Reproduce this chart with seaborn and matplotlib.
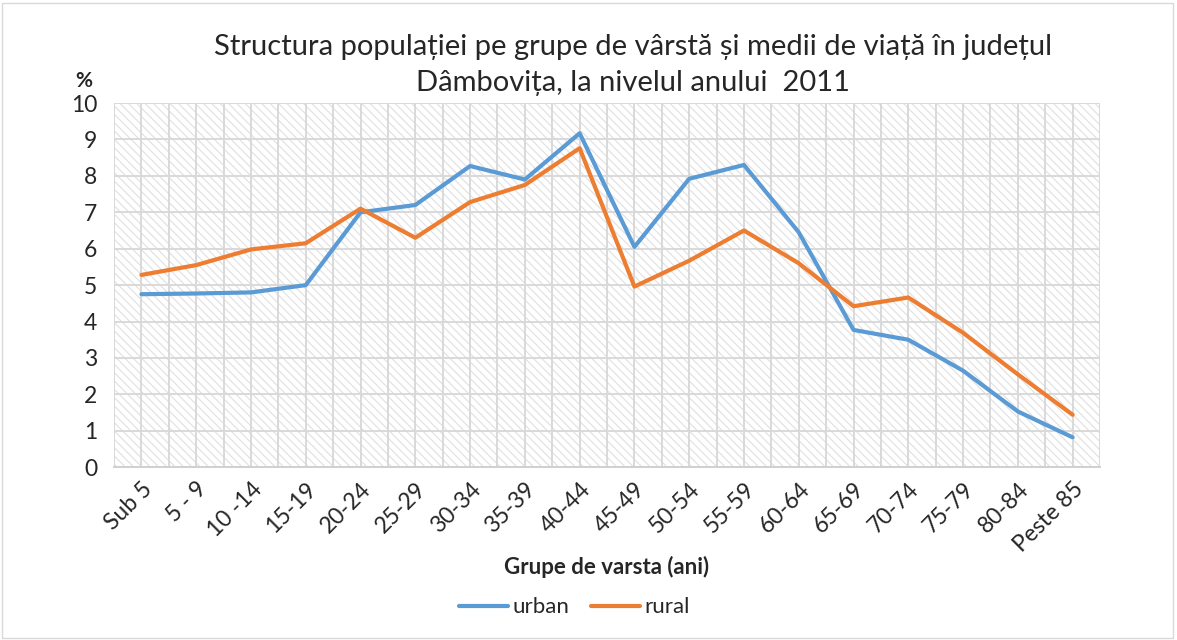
import pandas as pd
import numpy as np
import matplotlib.pyplot as plt
import seaborn as sns
from matplotlib.patches import Rectangle

# Data
age_groups = ['Sub 5', '5 - 9', '10 -14', '15-19', '20-24', '25-29', '30-34', '35-39',
              '40-44', '45-49', '50-54', '55-59', '60-64', '65-69', '70-74', '75-79',
              '80-84', 'Peste 85']
urban = [4.75, 4.77, 4.8, 5.0, 7.0, 7.2, 8.27, 7.9, 9.17, 6.05, 7.92, 8.3, 6.45,
         3.77, 3.5, 2.65, 1.53, 0.82]
rural = [5.28, 5.55, 5.98, 6.15, 7.1, 6.3, 7.28, 7.75, 8.76, 4.96, 5.67, 6.5, 5.6,
         4.42, 4.66, 3.69, 2.55, 1.44]

df = pd.DataFrame({'grupa': age_groups * 2,
                   'x': list(range(len(age_groups))) * 2,
                   'procent': urban + rural,
                   'mediu': ['urban'] * len(urban) + ['rural'] * len(rural)})

sns.set_style('white')
plt.rcParams['font.family'] = ['Lato', 'DejaVu Sans']
plt.rcParams['hatch.linewidth'] = 0.8
plt.rcParams['hatch.color'] = '#e0e0e0'

fig = plt.figure(figsize=(11.77, 6.4), dpi=100)
ax = fig.add_axes([0.0969, 0.270, 0.8377, 0.569])

# hatched plot background
ax.add_patch(Rectangle((0, 0), 1, 1, transform=ax.transAxes, facecolor='white',
                       edgecolor='#e0e0e0', hatch='\\\\\\\\', lw=0, zorder=0))

sns.lineplot(data=df, x='x', y='procent', hue='mediu',
             palette={'urban': '#5B9BD5', 'rural': '#ED7D31'},
             linewidth=3.0, ax=ax, legend=False, zorder=3)

ax.set_xlim(-0.5, len(age_groups) - 0.5)
ax.set_ylim(0, 10)
ax.set_yticks(range(0, 11))
ax.set_xticks(range(len(age_groups)))
ax.set_xticks(np.arange(-0.5, len(age_groups), 1), minor=True)
ax.set_xticklabels(age_groups, rotation=45, ha='right', rotation_mode='anchor', fontsize=16.5)
ax.tick_params(axis='y', labelsize=16.5, length=0, pad=12)
ax.tick_params(axis='x', which='both', length=0, pad=8)
ax.grid(True, which='major', color='#d9d9d9', lw=1.4, zorder=1)
ax.grid(True, which='minor', axis='x', color='#d9d9d9', lw=1.4, zorder=1)
ax.set_axisbelow(True)
for s in ['top', 'right', 'left']:
    ax.spines[s].set_visible(False)
ax.spines['bottom'].set_color('#d0d0d0')
ax.spines['bottom'].set_linewidth(1.4)

ax.set_xlabel('Grupe de varsta (ani)', fontsize=16, fontweight='bold', labelpad=0)
ax.set_ylabel('')
fig.text(0.064, 0.874, '%', fontsize=15, fontweight='bold', ha='left', va='center')

fig.text(0.538, 0.926, 'Structura populației pe grupe de vârstă și medii de viață în județul',
         fontsize=21, ha='center', va='center')
fig.text(0.538, 0.871, 'Dâmbovița, la nivelul anului  2011',
         fontsize=21, ha='center', va='center')

# legend at bottom
handles = [plt.Line2D([], [], color='#5B9BD5', lw=3.0),
           plt.Line2D([], [], color='#ED7D31', lw=3.0)]
fig.legend(handles, ['urban', 'rural'], loc='center', bbox_to_anchor=(0.488, 0.051),
           ncol=2, frameon=False, fontsize=16, handlelength=2.2, columnspacing=1.0,
           handletextpad=0.2)

# outer border
fig.add_artist(Rectangle((0.002, 0.003), 0.995, 0.993, transform=fig.transFigure,
                         fill=False, edgecolor='#d9d9d9', lw=1))

fig.savefig('out.png', dpi=100)
